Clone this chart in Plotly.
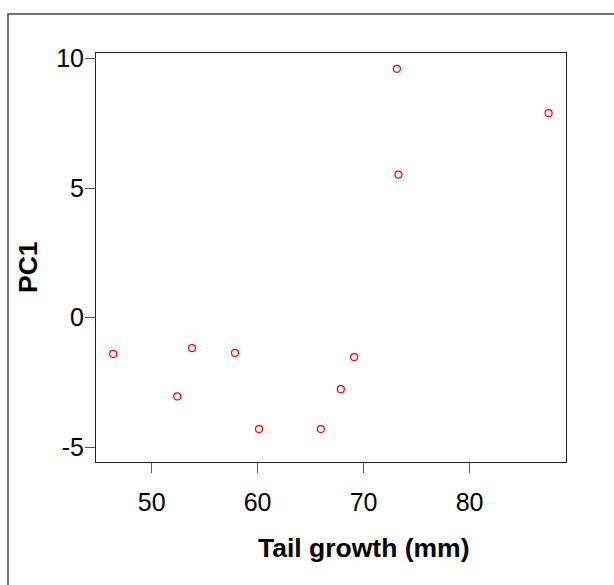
import plotly.graph_objects as go

tail_growth = [46.37, 52.42, 53.81, 57.87, 60.13, 65.96, 67.85, 69.11, 73.14, 73.29, 87.46]
pc1 = [-1.40, -3.04, -1.18, -1.36, -4.30, -4.30, -2.76, -1.52, 9.60, 5.52, 7.89]

x_ticks = [50, 60, 70, 80]
y_ticks = [-5, 0, 5, 10]
x_title = "Tail growth (mm)"
y_title = "PC1"

W, H = 614, 585
L, R, T, B = 96, 48, 53, 123
pw, ph = W - L - R, H - T - B

fig = go.Figure()
fig.add_trace(go.Scatter(
    x=tail_growth, y=pc1, mode="markers",
    marker=dict(symbol="circle-open", size=7, color="#ff0000", line=dict(width=1.2, color="#ff0000")),
    showlegend=False, hoverinfo="x+y",
))

font = "Liberation Sans, Arial, sans-serif"
axis_common = dict(
    showgrid=False, zeroline=False, showline=True, mirror=True,
    linecolor="#222", linewidth=1, ticks="outside", ticklen=10, tickwidth=1,
    tickcolor="#555", tickfont=dict(family=font, size=25, color="#000"),
)
fig.update_xaxes(range=[44.75, 89.1], tickvals=x_ticks, ticktext=[str(v) for v in x_ticks],
                 ticklabelstandoff=8, **axis_common)
fig.update_yaxes(range=[-5.57, 10.21], tickvals=y_ticks, ticktext=[str(v) for v in y_ticks],
                 ticklabelstandoff=-4, **axis_common)

def px_x(p):
    return (p - L) / pw

def px_y(p):
    return (H - B - p) / ph

fig.add_annotation(text="<b>%s</b>" % x_title, xref="paper", yref="paper",
                   x=px_x(363.5), y=px_y(548), showarrow=False,
                   font=dict(family=font, size=26.5, color="#000"), xanchor="center", yanchor="middle")
fig.add_annotation(text="<b>%s</b>" % y_title, xref="paper", yref="paper",
                   x=px_x(28), y=px_y(267), showarrow=False, textangle=-90,
                   font=dict(family=font, size=26.5, color="#000"), xanchor="center", yanchor="middle")

fig.add_shape(type="rect", xref="paper", yref="paper",
              x0=px_x(8), y0=px_y(700), x1=px_x(700), y1=px_y(14),
              line=dict(color="#444", width=1.5), fillcolor="rgba(0,0,0,0)", layer="above")

fig.update_layout(
    width=W, height=H, margin=dict(l=L, r=R, t=T, b=B, autoexpand=False),
    paper_bgcolor="white", plot_bgcolor="white",
)
fig.write_html("out.html")
